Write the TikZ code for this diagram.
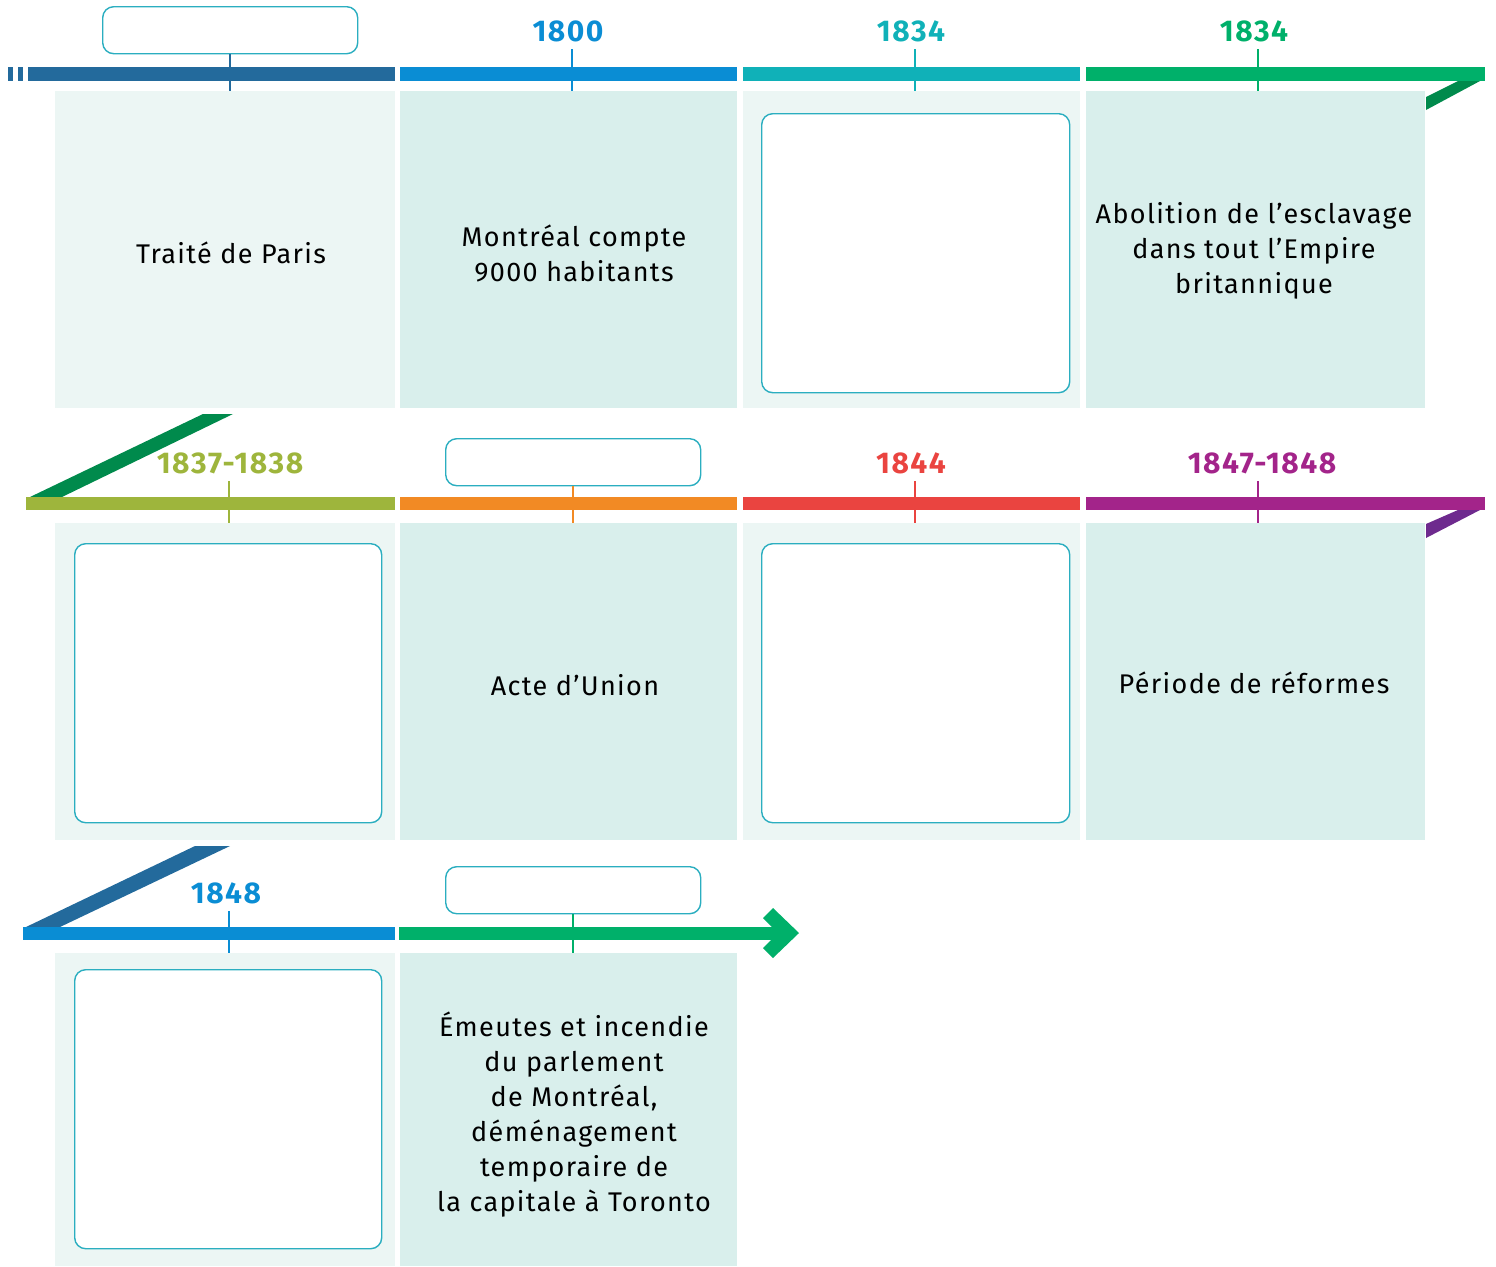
\documentclass[tikz,border=0pt]{standalone}
\usepackage{fontspec}
\setmainfont{Fira Sans}[LetterSpace=5]
\definecolor{pl}{HTML}{ECF6F4}
\definecolor{pd}{HTML}{D9EFEC}
\definecolor{bord}{HTML}{2BAEC0}
\definecolor{cdb}{HTML}{236A9C}
\definecolor{cbl}{HTML}{0A8DD4}
\definecolor{cte}{HTML}{10B1B8}
\definecolor{cgr}{HTML}{00B06A}
\definecolor{cdg}{HTML}{008A4C}
\definecolor{col}{HTML}{9EB53C}
\definecolor{cor}{HTML}{F28A24}
\definecolor{cre}{HTML}{EA4440}
\definecolor{cpu}{HTML}{A3248A}
\definecolor{cdp}{HTML}{6E2A8E}
\begin{document}
\begin{tikzpicture}[x=1pt,y=-1pt,
  panel/.style={draw=none,inner sep=0pt,outer sep=0pt,anchor=north west,
    minimum width=340pt},
  txt/.style={inner sep=0pt,align=center,font=\fontsize{27}{35}\selectfont},
  ebox/.style={draw=bord,line width=1.4pt,fill=white,rounded corners=11pt,inner sep=0pt,
    anchor=north west,minimum width=308pt,minimum height=279pt},
  lbox/.style={draw=bord,line width=1.4pt,fill=white,rounded corners=11pt,inner sep=0pt,
    anchor=north west,minimum width=255pt,minimum height=47pt},
  year/.style={font=\fontsize{30}{32}\selectfont\bfseries,inner sep=0pt},
  tick/.style={line width=1.6pt}]
\useasboundingbox (0,0) rectangle (1496,1266);

% diagonals (behind)
\fill[cdg] (1458,81) -- (1480,81) -- (1426,110) -- (1426,97) -- cycle;
\fill[cdg] (203,414) -- (233,414) -- (62,497) -- (30,497) -- cycle;
\fill[cdp] (1458,510) -- (1480,510) -- (1426,538) -- (1426,524) -- cycle;
\fill[cdb] (195,846) -- (230,846) -- (60,927) -- (26,927) -- cycle;

% row 1 panels
\node[panel,fill=pl,minimum height=317pt] (p11) at (55,91) {};
\node[panel,fill=pd,minimum height=317pt,minimum width=337pt] (p12) at (400,91) {};
\node[panel,fill=pl,minimum height=317pt,minimum width=337pt] (p13) at (743,91) {};
\node[panel,fill=pd,minimum height=317pt,minimum width=339pt] (p14) at (1086,91) {};
% row 2 panels
\node[panel,fill=pl,minimum height=317pt] (p21) at (55,523) {};
\node[panel,fill=pd,minimum height=317pt,minimum width=337pt] (p22) at (400,523) {};
\node[panel,fill=pl,minimum height=317pt,minimum width=337pt] (p23) at (743,523) {};
\node[panel,fill=pd,minimum height=317pt,minimum width=339pt] (p24) at (1086,523) {};
% row 3 panels
\node[panel,fill=pl,minimum height=313pt] (p31) at (55,953) {};
\node[panel,fill=pd,minimum height=313pt,minimum width=337pt] (p32) at (400,953) {};

% panel texts
\node[txt] (x11) at (231,253) {Traité de Paris};
\node[txt] (x12) at (574,253.5) {Montréal compte\\9000 habitants};
\node[txt] (x14) at (1254,251) {Abolition de l’esclavage\\dans tout l’Empire\\britannique};
\node[txt] (x22) at (575,685) {Acte d’Union};
\node[txt] (x24) at (1254,683) {Période de réformes};
\node[txt] (x32) at (574,1115) {Émeutes et incendie\\du parlement\\de Montréal,\\déménagement\\temporaire de\\la capitale à Toronto};

% bars row 1
\fill[cdb] (8,67) rectangle (13,81);
\fill[cdb] (18,67) rectangle (23,81);
\fill[cdb] (28,67) rectangle (395,81);
\fill[cbl] (400,67) rectangle (737,81);
\fill[cte] (743,67) rectangle (1080,81);
\fill[cgr] (1086,67) rectangle (1485,81);
% bars row 2
\fill[col] (26,497) rectangle (395,510);
\fill[cor] (400,497) rectangle (737,510);
\fill[cre] (743,497) rectangle (1080,510);
\fill[cpu] (1086,497) rectangle (1485,510);
% bars row 3
\fill[cbl] (23,927) rectangle (395,940);
\fill[cgr] (399,927) rectangle (781,940);
\fill[cgr] (773,908) -- (799,933) -- (773,958) -- (763,948) -- (778,933) -- (763,918) -- cycle;

% label boxes and years
\node[lbox] (l11) at (102,6) {};
\node[year,text=cbl] (y12) at (568,31) {1800};
\node[year,text=cte] (y13) at (911,31) {1834};
\node[year,text=cgr] (y14) at (1254,31) {1834};
\node[year,text=col] (y21) at (230,463) {1837-1838};
\node[lbox] (l22) at (445,438) {};
\node[year,text=cre] (y23) at (911,463) {1844};
\node[year,text=cpu] (y24) at (1262,463) {1847-1848};
\node[year,text=cbl] (y31) at (226,893) {1848};
\node[lbox] (l32) at (445,866) {};

% ticks
\draw[tick,cdb] (l11.south) -- (l11.south |- p11.north);
\draw[tick,cbl] (572,49) coordinate (t12) -- (t12 |- p12.north);
\draw[tick,cte] (915,49) coordinate (t13) -- (t13 |- p13.north);
\draw[tick,cgr] (1258,49) coordinate (t14) -- (t14 |- p14.north);
\draw[tick,col] (229,481) coordinate (t21) -- (t21 |- p21.north);
\draw[tick,cor] (l22.south) -- (l22.south |- p22.north);
\draw[tick,cre] (915,481) coordinate (t23) -- (t23 |- p23.north);
\draw[tick,cpu] (1258,481) coordinate (t24) -- (t24 |- p24.north);
\draw[tick,cbl] (229,911) coordinate (t31) -- (t31 |- p31.north);
\draw[tick,cgr] (l32.south) -- (l32.south |- p32.north);

% empty answer boxes
\node[ebox] (e13) at (761,113) {};
\node[ebox,minimum width=307pt] (e21) at (74,543) {};
\node[ebox] (e23) at (761,543) {};
\node[ebox,minimum width=307pt] (e31) at (74,969) {};
\end{tikzpicture}
\end{document}
